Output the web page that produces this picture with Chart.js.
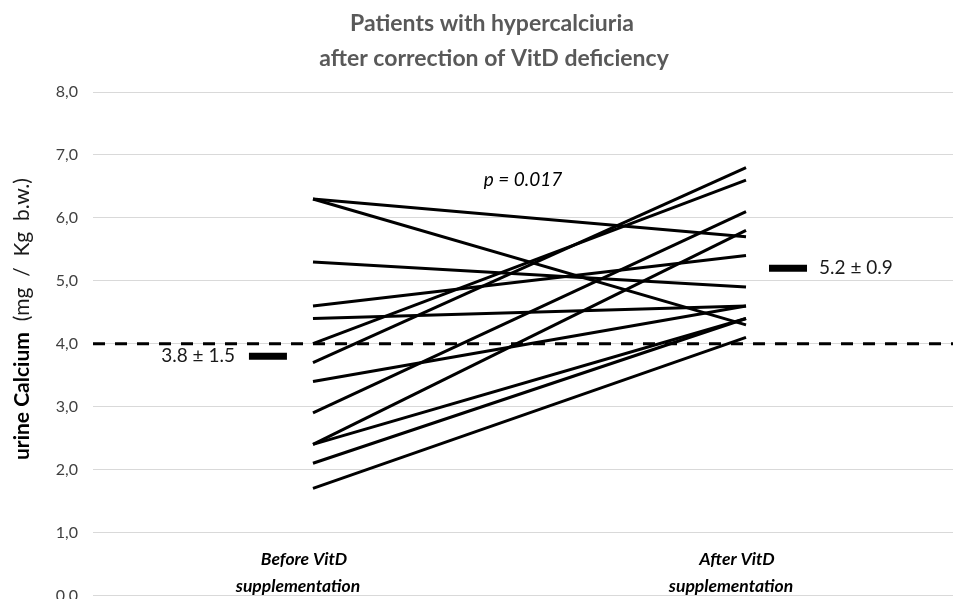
<!DOCTYPE html>
<html>
<head>
<meta charset="utf-8">
<script src="https://cdn.jsdelivr.net/npm/chart.js@4"></script>
<style>
  html, body { margin: 0; padding: 0; background: #fff; overflow: hidden; }
  #wrap { width: 953px; height: 620px; }
</style>
</head>
<body>
<div id="wrap"><canvas id="urine-calcium-chart" width="953" height="620"></canvas></div>
<script>
const categories = [["Before VitD", "supplementation"], ["After VitD", "supplementation"]];
const beforeValues = [6.3, 6.3, 5.3, 4.6, 4.4, 4.0, 3.7, 3.4, 2.9, 2.4, 2.4, 2.1, 1.7];
const afterValues = [5.7, 4.3, 4.9, 5.4, 4.6, 6.6, 6.8, 4.6, 6.1, 5.8, 4.4, 4.4, 4.1];
const meanValues = [3.8, 5.2];
const meanLabels = ["3.8 ± 1.5", "5.2 ± 0.9"];
const thresholdValue = 4.0;
const yTickValues = [0, 1, 2, 3, 4, 5, 6, 7, 8];
const titleLines = ["Patients with hypercalciuria", "after correction of VitD deficiency"];
const yTitleParts = ["urine Calcium", "(mg  /  Kg  b.w.)"];
const pValueText = "p = 0.017";

const FONT = "Lato, 'Open Sans', sans-serif";
const X_MIN = 0.492;
const X_MAX = 2.478;
const MEAN_OFFSET = [-0.104, 0.097];

function pairedDatasets() {
  return beforeValues.map((b, i) => ({
    data: [{ x: 1, y: b }, { x: 2, y: afterValues[i] }],
    showLine: true,
    borderColor: "#000",
    borderWidth: 3,
    pointRadius: 0,
    order: 2,
  }));
}

const textPlugin = {
  id: "textPlugin",
  afterDraw(chart) {
    const ctx = chart.ctx;
    const xs = chart.scales.x;
    const ys = chart.scales.y;
    ctx.save();

    // title
    ctx.fillStyle = "#595959";
    ctx.font = "bold 23px " + FONT;
    ctx.textAlign = "center";
    ctx.textBaseline = "middle";
    ctx.fillText(titleLines[0], 492, 24);
    ctx.fillText(titleLines[1], 494, 59);

    // y axis title: bold name, then regular unit
    ctx.translate(22, 0);
    ctx.rotate(-Math.PI / 2);
    ctx.textBaseline = "middle";
    ctx.textAlign = "left";
    ctx.fillStyle = "#000";
    ctx.font = "bold 21px " + FONT;
    const w1 = ctx.measureText(yTitleParts[0]).width;
    ctx.fillText(yTitleParts[0], -460, 0);
    ctx.font = "21px " + FONT;
    ctx.fillStyle = "#1a1a1a";
    ctx.fillText(yTitleParts[1], -460 + w1 + 11, 0);
    ctx.setTransform(1, 0, 0, 1, 0, 0);

    // p value
    ctx.fillStyle = "#000";
    ctx.font = "italic 19px " + FONT;
    ctx.textAlign = "center";
    ctx.fillText(pValueText, 523, ys.getPixelForValue(6.61));

    // mean labels
    ctx.font = "19px " + FONT;
    ctx.fillStyle = "#1a1a1a";
    ctx.textAlign = "right";
    ctx.fillText(meanLabels[0], xs.getPixelForValue(1 + MEAN_OFFSET[0]) - 33, ys.getPixelForValue(meanValues[0]));
    ctx.textAlign = "left";
    ctx.fillText(meanLabels[1], xs.getPixelForValue(2 + MEAN_OFFSET[1]) + 31, ys.getPixelForValue(meanValues[1]));

    // category labels
    ctx.font = "italic bold 17.5px " + FONT;
    ctx.fillStyle = "#000";
    ctx.textAlign = "center";
    categories.forEach((lines, i) => {
      const cx = xs.getPixelForValue(i + 1) - 15;
      lines.forEach((line, j) => {
        ctx.fillText(line, cx + (j === 0 ? 6 : 0), 559 + j * 27);
      });
    });
    ctx.restore();
  },
};

function drawChart() {
  const ctx = document.getElementById("urine-calcium-chart").getContext("2d");
  const datasets = pairedDatasets();

  datasets.push({
    data: [{ x: X_MIN, y: thresholdValue }, { x: X_MAX, y: thresholdValue }],
    showLine: true,
    borderColor: "#000",
    borderWidth: 3,
    borderDash: [12, 10],
    pointRadius: 0,
    order: 3,
  });

  datasets.push({
    data: meanValues.map((m, i) => ({ x: i + 1 + MEAN_OFFSET[i], y: m })),
    showLine: false,
    pointStyle: "line",
    pointRadius: 19,
    pointBorderWidth: 7,
    pointBorderColor: "#000",
    pointBackgroundColor: "#000",
    order: 1,
  });

  new Chart(ctx, {
    type: "scatter",
    plugins: [textPlugin],
    data: { datasets },
    options: {
      responsive: false,
      animation: false,
      layout: { autoPadding: false, padding: { top: 92, right: 0, bottom: 19, left: 0 } },
      plugins: {
        legend: { display: false },
        tooltip: { enabled: false },
        title: { display: false },
      },
      scales: {
        x: {
          type: "linear",
          min: X_MIN,
          max: X_MAX,
          display: false,
        },
        y: {
          min: 0,
          max: 8,
          afterFit: (s) => { s.width = 93; },
          afterBuildTicks: (s) => { s.ticks = yTickValues.map((v) => ({ value: v })); },
          border: { display: false },
          grid: { color: "#d9d9d9", lineWidth: 1, drawTicks: false },
          ticks: {
            padding: 15,
            color: "#404040",
            font: { family: FONT, size: 16 },
            callback: (v) => v.toFixed(1).replace(".", ","),
          },
        },
      },
    },
  });
}

drawChart();
</script>
</body>
</html>
